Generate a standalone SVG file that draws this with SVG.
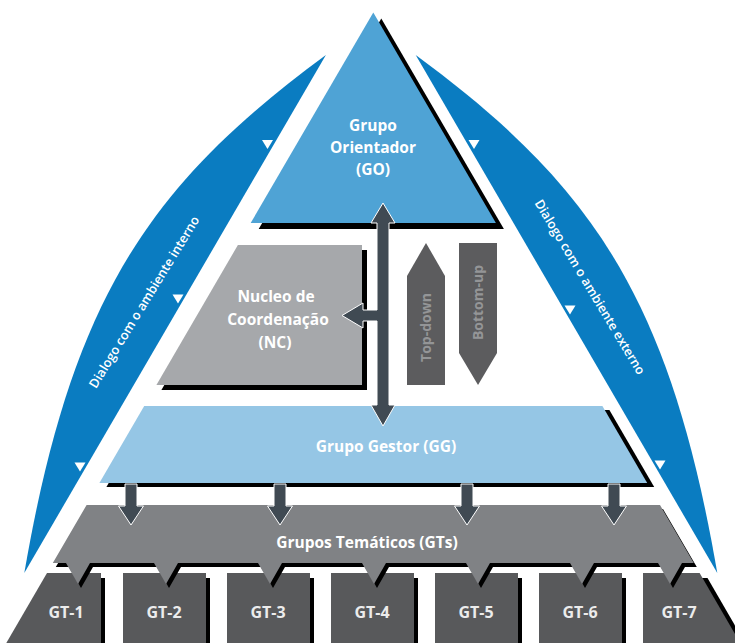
<svg xmlns="http://www.w3.org/2000/svg" width="735" height="643" viewBox="0 0 735 643">
  <style>
    .lbl{font-family:"Open Sans","Noto Sans","Liberation Sans",sans-serif;font-weight:700;fill:#ffffff;text-anchor:middle}
    .big{font-size:15.5px}
    .arctxt{font-size:12.8px;font-weight:600}
    .arc{fill:#0a7cc1}
    .mk{fill:#ffffff}
    .sh{fill:#000000}
    .dark{fill:#404a53;stroke:#ffffff;stroke-width:1;stroke-linejoin:miter}
    .flow{fill:#5c5c5e}
    .flowtxt{font-family:"Open Sans","Noto Sans","Liberation Sans",sans-serif;font-weight:700;font-size:14px;fill:#949597;text-anchor:middle}
    .gt{fill:#58595b}
    .gtl{fill:#ececec;font-size:16px}
  </style>
  <rect width="735" height="643" fill="#ffffff"/>

  <!-- left dialogue band -->
  <g id="dialogo-interno">
    <path class="arc" d="M325.9,55 C149,185 71.6,298.6 24.3,573 Z"/>
    <polygon class="mk" points="262,140 273,140 267.5,149"/>
    <polygon class="mk" points="172.5,294.5 183.5,294.5 178,303.5"/>
    <polygon class="mk" points="74.5,462.5 85.5,462.5 80,471.5"/>
    <text class="lbl arctxt" transform="translate(144,302) rotate(-58.5)" y="4.6">Dialogo com o ambiente interno</text>
  </g>

  <!-- right dialogue band -->
  <g id="dialogo-externo">
    <path class="arc" d="M415.7,55 C592.6,185 670,298.6 717.3,573 Z"/>
    <polygon class="mk" points="468.5,140 479.5,140 474,149"/>
    <polygon class="mk" points="564.5,305.5 575.5,305.5 570,314.5"/>
    <polygon class="mk" points="654.5,460.5 665.5,460.5 660,469.5"/>
    <text class="lbl arctxt" transform="translate(590,287) rotate(59)" y="4.6">Dialogo com o ambiente externo</text>
  </g>

  <!-- Grupo Orientador -->
  <g id="go">
    <polygon class="sh" points="381.3,18.4 503.9,229 258.7,229"/>
    <polygon fill="#4fa3d5" points="373.3,12.4 495.9,223 250.7,223"/>
    <text class="lbl big" x="373" y="130.5">Grupo</text>
    <text class="lbl big" x="373" y="152.5">Orientador</text>
    <text class="lbl big" x="373" y="175">(GO)</text>
  </g>

  <!-- Nucleo de Coordenacao -->
  <g id="nc">
    <polygon class="sh" points="242.9,250 367,250 367,390 161.4,390"/>
    <polygon fill="#a6a8ab" points="237.9,245 362,245 362,385 156.4,385"/>
    <text class="lbl big" x="276" y="302">Nucleo de</text>
    <text class="lbl big" x="278" y="325">Coordenação</text>
    <text class="lbl big" x="275" y="347.5">(NC)</text>
  </g>

  <!-- flow direction arrows -->
  <g id="top-down">
    <polygon class="flow" points="407,276 426,243 445,276 445,385 407,385"/>
    <text class="flowtxt" transform="translate(426,327.5) rotate(-90)" y="5">Top-down</text>
  </g>
  <g id="bottom-up">
    <polygon class="flow" points="459,243 497,243 497,353 478,385 459,353"/>
    <text class="flowtxt" transform="translate(478,302.5) rotate(-90)" y="5">Bottom-up</text>
  </g>

  <!-- Grupo Gestor -->
  <g id="gg">
    <polygon class="sh" points="151.2,410 609.4,410 654.2,487 106.4,487"/>
    <polygon fill="#95c6e5" points="144.2,406 602.4,406 647.2,483 99.4,483"/>
    <text class="lbl big" x="386" y="451.5">Grupo Gestor (GG)</text>
  </g>

  <!-- thematic group boxes -->
  <g id="gt-1">
    <polygon class="sh" points="51,578 105,578 105,643 10,643"/>
    <polygon class="gt" points="47,573 101,573 101,643 6.3,643"/>
    <text class="lbl gtl" x="66" y="617.5">GT-1</text>
  </g>
  <g id="gt-2">
    <rect class="sh" x="127" y="578" width="83" height="65"/>
    <rect class="gt" x="123" y="573" width="83" height="70"/>
    <text class="lbl gtl" x="164" y="617.5">GT-2</text>
  </g>
  <g id="gt-3">
    <rect class="sh" x="231" y="578" width="83" height="65"/>
    <rect class="gt" x="227" y="573" width="83" height="70"/>
    <text class="lbl gtl" x="268" y="617.5">GT-3</text>
  </g>
  <g id="gt-4">
    <rect class="sh" x="335" y="578" width="83" height="65"/>
    <rect class="gt" x="331" y="573" width="83" height="70"/>
    <text class="lbl gtl" x="372" y="617.5">GT-4</text>
  </g>
  <g id="gt-5">
    <rect class="sh" x="439" y="578" width="83" height="65"/>
    <rect class="gt" x="435" y="573" width="83" height="70"/>
    <text class="lbl gtl" x="476" y="617.5">GT-5</text>
  </g>
  <g id="gt-6">
    <rect class="sh" x="543" y="578" width="83" height="65"/>
    <rect class="gt" x="539" y="573" width="83" height="70"/>
    <text class="lbl gtl" x="580" y="617.5">GT-6</text>
  </g>
  <g id="gt-7">
    <polygon class="sh" points="660,578 707.5,578 748,648 660,648"/>
    <polygon class="gt" points="643,573 699.6,573 740.3,643 643,643"/>
    <text class="lbl gtl" x="679" y="617.5">GT-7</text>
  </g>

  <!-- Grupos Tematicos band with notches into each box -->
  <g id="gts">
    <path class="sh" transform="translate(3,4)" d="M86.6,505 H660 L693.8,563 H682 L670,584 L658,563 H594 L582,584 L570,563 H490 L478,584 L466,563 H386 L374,584 L362,563 H282 L270,584 L258,563 H178 L166,584 L154,563 H90 L78,584 L66,563 H52.8 Z"/>
    <path fill="#808285" d="M86.6,505 H660 L693.8,563 H682 L670,584 L658,563 H594 L582,584 L570,563 H490 L478,584 L466,563 H386 L374,584 L362,563 H282 L270,584 L258,563 H178 L166,584 L154,563 H90 L78,584 L66,563 H52.8 Z"/>
    <text class="lbl big" x="367" y="548">Grupos Temáticos (GTs)</text>
  </g>

  <!-- connectors -->
  <g id="connectors">
    <path class="dark" d="M125,484 H137 V506 H143.5 L131,525 L118.5,506 H125 Z"/>
    <path class="dark" d="M274,484 H286 V506 H292.5 L280,525 L267.5,506 H274 Z"/>
    <path class="dark" d="M461,484 H473 V506 H479.5 L467,525 L454.5,506 H461 Z"/>
    <path class="dark" d="M608,484 H620 V506 H626.5 L614,525 L601.5,506 H608 Z"/>
    <path class="dark" d="M383,203 L395,223 L389,223 L389,405 L395,405 L383,426 L371,405 L377,405 L377,321 L363,321 L363,328 L342,315.5 L363,303 L363,310 L377,310 L377,223 L371,223 Z"/>
  </g>
</svg>
